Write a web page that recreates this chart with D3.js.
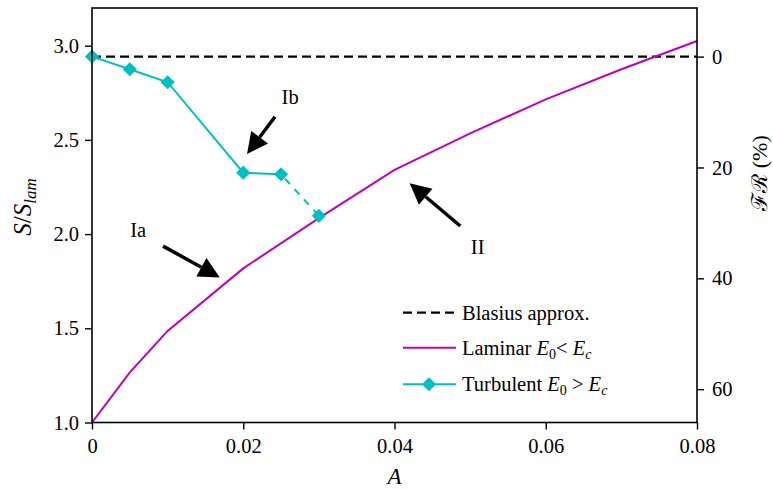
<!DOCTYPE html>
<html><head><meta charset="utf-8">
<script src="https://cdn.jsdelivr.net/npm/d3@7"></script>
<style>
body{margin:0;background:#fff;}
text{font-family:"Liberation Serif","Times New Roman",serif;}
</style></head>
<body><svg id="c" width="773" height="489"></svg>
<script>
// ---- data ----
const laminarA = [0, 0.005, 0.01, 0.02, 0.03, 0.04, 0.05, 0.06, 0.07, 0.08];
const laminarS = [1.0, 1.266, 1.486, 1.818, 2.085, 2.341, 2.535, 2.715, 2.875, 3.025];
const turbA = [0, 0.005, 0.01, 0.02, 0.025, 0.03];
const turbS = [2.942, 2.875, 2.806, 2.326, 2.317, 2.097];
const blasiusS = 2.942;
const xTicks = [0, 0.02, 0.04, 0.06, 0.08];
const xTickLabels = ["0", "0.02", "0.04", "0.06", "0.08"];
const yTicks = [1.0, 1.5, 2.0, 2.5, 3.0];
const yTickLabels = ["1.0", "1.5", "2.0", "2.5", "3.0"];
const frTicks = [0, 20, 40, 60];
const frTickLabels = ["0", "20", "40", "60"];
const annotations = [
  {label: "Ia", tx: 0.0061, ty: 2.022, tail: [0.0094, 1.936], tip: [0.0169, 1.770]},
  {label: "Ib", tx: 0.0262, ty: 2.728, tail: [0.0242, 2.623], tip: [0.0205, 2.425]},
  {label: "II", tx: 0.0510, ty: 1.932, tail: [0.0487, 2.043], tip: [0.0420, 2.270]}
];

// ---- layout ----
const L = 92, R = 697, T = 8, B = 422.5;
const FS = 20.5;
const svg = d3.select("#c");
const x = d3.scaleLinear().domain([0, 0.08]).range([L, R]);
const y = d3.scaleLinear().domain([1, 3.2]).range([B, T]);
const fr = s => 100 * (1 - s / blasiusS);
const yR = d3.scaleLinear().domain([fr(1), fr(3.2)]).range([B, T]);

const MAG = "#bf00bf", CY = "#00bfbf";

// blasius line
svg.append("line").attr("x1", x(0)).attr("x2", x(0.08))
  .attr("y1", y(blasiusS)).attr("y2", y(blasiusS))
  .attr("stroke", "#000").attr("stroke-width", 2.2).attr("stroke-dasharray", "9,5");

// laminar
const line = d3.line().x(d => x(d[0])).y(d => y(d[1]));
const lam = laminarA.map((a, i) => [a, laminarS[i]]);
svg.append("path").attr("d", line(lam)).attr("fill", "none")
  .attr("stroke", MAG).attr("stroke-width", 2);

// turbulent
const tur = turbA.map((a, i) => [a, turbS[i]]);
svg.append("path").attr("d", line(tur.slice(0, 5))).attr("fill", "none")
  .attr("stroke", CY).attr("stroke-width", 2);
svg.append("path").attr("d", line(tur.slice(4))).attr("fill", "none")
  .attr("stroke", CY).attr("stroke-width", 2).attr("stroke-dasharray", "7,7").attr("stroke-dashoffset", -6);
const diamond = d3.symbol().type(d3.symbolSquare).size(100);
svg.selectAll(".tm").data(tur).join("path")
  .attr("d", diamond)
  .attr("transform", d => `translate(${x(d[0])},${y(d[1])}) rotate(45)`)
  .attr("fill", CY);

// annotations
annotations.forEach(a => {
  const [x1, y1] = [x(a.tail[0]), y(a.tail[1])];
  const [x2, y2] = [x(a.tip[0]), y(a.tip[1])];
  const ang = Math.atan2(y2 - y1, x2 - x1);
  const hl = 21, hw = 10.5;
  const bx = x2 - hl * Math.cos(ang), by = y2 - hl * Math.sin(ang);
  svg.append("line").attr("x1", x1).attr("y1", y1).attr("x2", bx).attr("y2", by)
    .attr("stroke", "#000").attr("stroke-width", 3.5);
  const px = -Math.sin(ang), py = Math.cos(ang);
  svg.append("path")
    .attr("d", `M${x2},${y2}L${bx + hw * px},${by + hw * py}L${bx - hw * px},${by - hw * py}Z`)
    .attr("fill", "#000");
  svg.append("text").attr("x", x(a.tx)).attr("y", y(a.ty)).attr("dy", "0.35em")
    .attr("text-anchor", "middle").attr("font-size", FS).text(a.label);
});

// frame
svg.append("rect").attr("x", L).attr("y", T).attr("width", R - L).attr("height", B - T)
  .attr("fill", "none").attr("stroke", "#000").attr("stroke-width", 1.6);

// axes
function style(g) {
  g.attr("font-family", null);
  g.select(".domain").remove();
  g.selectAll("line").attr("stroke", "#000").attr("stroke-width", 1.4);
  g.selectAll("text").attr("font-size", FS).attr("fill", "#000");
}
svg.append("g").attr("transform", `translate(0,${B})`)
  .call(d3.axisBottom(x).tickValues(xTicks).tickFormat((d, i) => xTickLabels[i]).tickSize(7).tickPadding(9))
  .call(style);
svg.append("g").attr("transform", `translate(${L},0)`)
  .call(d3.axisLeft(y).tickValues(yTicks).tickFormat((d, i) => yTickLabels[i]).tickSize(7).tickPadding(6))
  .call(style);
svg.append("g").attr("transform", `translate(${R},0)`)
  .call(d3.axisRight(yR).tickValues(frTicks).tickFormat((d, i) => frTickLabels[i]).tickSize(7).tickPadding(8))
  .call(style);

// axis labels
svg.append("text").attr("x", (L + R) / 2).attr("y", 484).attr("text-anchor", "middle")
  .attr("font-size", 23).attr("font-style", "italic").text("A");
const yl = svg.append("text").attr("transform", `translate(31,207) rotate(-90)`)
  .attr("text-anchor", "middle").attr("font-size", 25);
yl.append("tspan").attr("font-style", "italic").text("S");
yl.append("tspan").text("/");
yl.append("tspan").attr("font-style", "italic").text("S");
yl.append("tspan").attr("font-style", "italic").attr("font-size", 17).attr("dy", 5).text("lam");
const rl = svg.append("text").attr("transform", `translate(759,173) rotate(-90)`)
  .attr("text-anchor", "middle").attr("dy", "0.35em").attr("font-size", 22);
rl.append("tspan").text("ℱℛ");
rl.append("tspan").text(" (%)");

// legend
const lg = svg.append("g");
const items = [
  {y: 312.7, type: "dash", main: "Blasius approx."},
  {y: 347.7, type: "mag", main: "Laminar "},
  {y: 384.3, type: "cy", main: "Turbulent "}
];
items.forEach((it, i) => {
  const ln = lg.append("line").attr("x1", 403).attr("x2", 456).attr("y1", it.y).attr("y2", it.y);
  if (it.type === "dash") ln.attr("stroke", "#000").attr("stroke-width", 2.2).attr("stroke-dasharray", "9,5");
  if (it.type === "mag") ln.attr("stroke", MAG).attr("stroke-width", 2);
  if (it.type === "cy") {
    ln.attr("stroke", CY).attr("stroke-width", 2);
    lg.append("path").attr("d", diamond).attr("transform", `translate(429,${it.y}) rotate(45)`).attr("fill", CY);
  }
  const t = lg.append("text").attr("x", 462).attr("y", it.y).attr("dy", "0.35em").attr("font-size", FS);
  t.append("tspan").text(it.main);
  if (i > 0) {
    const op = i === 1 ? "<" : ">";
    t.append("tspan").attr("font-style", "italic").text("E");
    t.append("tspan").attr("font-size", 14).attr("dy", 4).text("0");
    t.append("tspan").attr("dy", -4).text(op === "<" ? "< " : " > ");
    t.append("tspan").attr("font-style", "italic").text("E");
    t.append("tspan").attr("font-style", "italic").attr("font-size", 14).attr("dy", 4).text("c");
  }
});
</script></body></html>
